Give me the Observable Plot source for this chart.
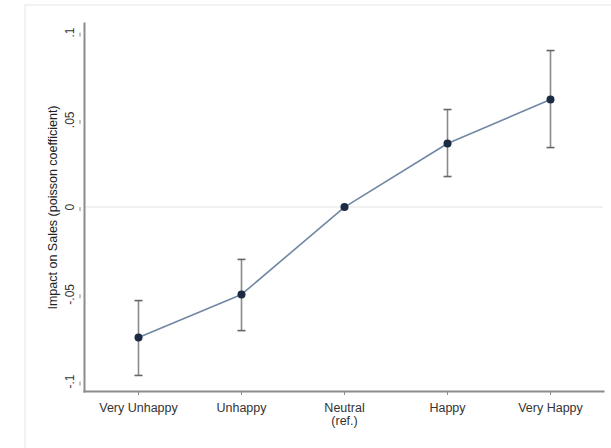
<!DOCTYPE html>
<html>
<head>
<meta charset="utf-8">
<script src="https://cdn.jsdelivr.net/npm/d3@7"></script>
<script src="https://cdn.jsdelivr.net/npm/@observablehq/plot@0.6"></script>
<style>
  html, body { margin: 0; padding: 0; background: #fff; }
  #wrap { position: relative; width: 611px; height: 448px; }
  #frame { position: absolute; left: 24px; top: 4px; right: 0; bottom: 0; border-left: 2px solid #f2f2f2; border-top: 2px solid #f2f2f2; pointer-events: none; }
  #chart { position: absolute; left: 0; top: 0; }
</style>
</head>
<body>
<div id="wrap"><div id="frame"></div><div id="chart"></div></div>
<script>
const categories = ["Very Unhappy", "Unhappy", "Neutral\n(ref.)", "Happy", "Very Happy"];
const estimates = [-0.0748, -0.0501, 0.0, 0.0364, 0.0616];
const ciLower = [-0.0965, -0.0708, 0.0, 0.0175, 0.0341];
const ciUpper = [-0.0536, -0.0300, 0.0, 0.0559, 0.0897];
const yTicks = [-0.1, -0.05, 0, 0.05, 0.1];
const yTickLabels = ["-.1", "-.05", "0", ".05", ".1"];
const yLabel = "Impact on Sales (poisson coefficient)";

const data = categories.map((c, i) => ({cat: c, est: estimates[i], lo: ciLower[i], hi: ciUpper[i]}));
const bars = data.filter(d => d.hi !== d.lo);
const caps = bars.flatMap(d => [{cat: d.cat, v: d.lo}, {cat: d.cat, v: d.hi}]);
const tickFmt = v => yTickLabels[yTicks.findIndex(t => Math.abs(t - v) < 1e-9)];
const capSymbol = {draw(ctx) { ctx.moveTo(-4, 0); ctx.lineTo(4, 0); }};

const font = "Liberation Sans, Arial, sans-serif";
const chart = Plot.plot({
  width: 611,
  height: 448,
  marginLeft: 84,
  marginRight: 8,
  marginTop: 23,
  marginBottom: 57,
  style: {fontFamily: font, fontSize: "12.5px", color: "#333", background: "transparent"},
  x: {type: "point", domain: categories, padding: 0.5, label: null},
  y: {domain: [-0.1057, 0.1052], label: null},
  marks: [
    Plot.ruleY([0], {stroke: "#ececec", strokeWidth: 1.5}),
    Plot.frame({anchor: "left", stroke: "#8c8c8c", strokeWidth: 2}),
    Plot.frame({anchor: "bottom", stroke: "#8c8c8c", strokeWidth: 2}),
    Plot.axisY({ticks: yTicks, tickFormat: tickFmt, tickSize: 4, stroke: "#8c8c8c", rotate: -90, textAnchor: "middle", dx: -4, tickPadding: 6, fill: "#333", fontSize: 12, label: null}),
    Plot.axisX({tickSize: 4, stroke: "#8c8c8c", tickPadding: 7, fill: "#333", fontSize: 12.5, label: null, lineHeight: 1.05}),
    Plot.ruleX(bars, {x: "cat", y1: "lo", y2: "hi", stroke: "#8a8a8a", strokeWidth: 1.6}),
    Plot.dot(caps, {x: "cat", y: "v", symbol: capSymbol, stroke: "#666", strokeWidth: 1.6, fill: "none"}),
    Plot.line(data, {x: "cat", y: "est", stroke: "#7088a3", strokeWidth: 1.6}),
    Plot.dot(data, {x: "cat", y: "est", r: 4, fill: "#1c2b42", stroke: "none"}),
    Plot.text([yLabel], {frameAnchor: "left", dx: -32, rotate: -90, textAnchor: "middle", fontSize: 12.5, fill: "#222"})
  ]
});
document.getElementById("chart").appendChild(chart);
</script>
</body>
</html>
